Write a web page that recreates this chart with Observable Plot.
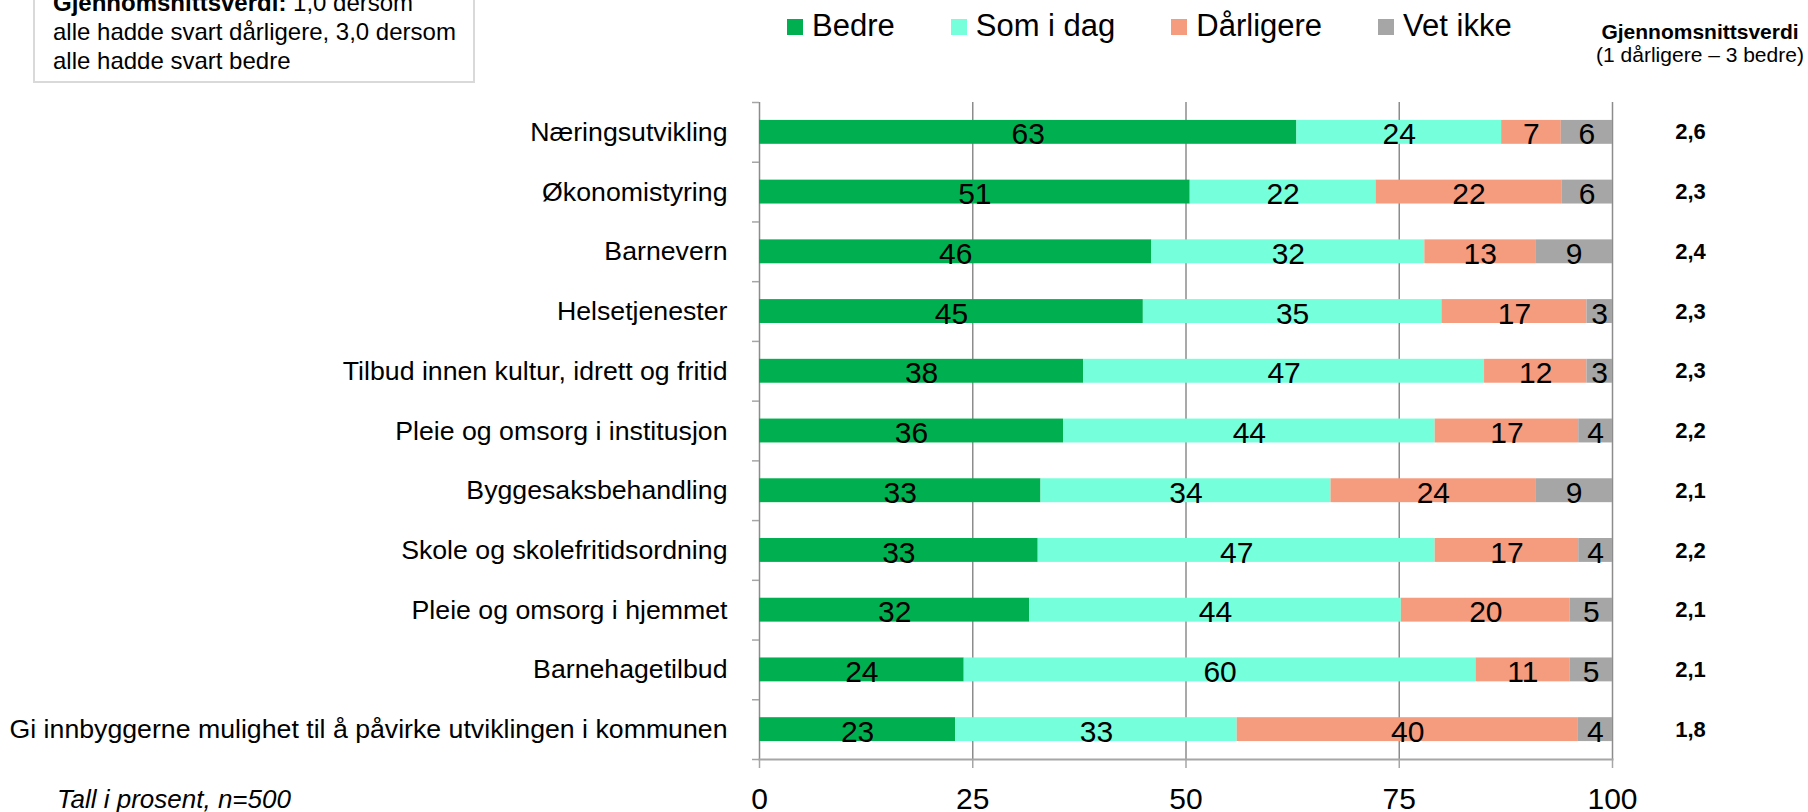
<!DOCTYPE html>
<html>
<head>
<meta charset="utf-8">
<script src="https://cdn.jsdelivr.net/npm/d3@7"></script>
<script src="https://cdn.jsdelivr.net/npm/@observablehq/plot@0.6"></script>
<style>
html, body { margin: 0; padding: 0; background: #fff; }
body { width: 1808px; height: 812px; overflow: hidden; position: relative; font-family: "Liberation Sans", Arial, sans-serif; color: #000; }
#chart { position: absolute; left: 0; top: 0; }
#note-box { position: absolute; left: 33px; top: -40px; width: 442px; height: 123px; box-sizing: border-box; border: 2px solid #d9d9d9; background: #fff; }
#note-text { position: absolute; left: 53px; top: -12.5px; font-size: 24px; line-height: 29px; white-space: nowrap; }
#legend { position: absolute; left: 787px; top: 9.8px; display: flex; font-size: 31px; line-height: 31px; }
#legend .item { display: flex; align-items: center; height: 31px; margin-right: 56px; white-space: nowrap; }
#legend .sw { width: 16px; height: 16px; margin-top: 3px; margin-right: 9px; }
#mean-head { position: absolute; left: 1590px; width: 220px; top: 0; text-align: center; font-size: 21px; }
#mean-head .t1 { position: absolute; left: 0; width: 220px; top: 21px; line-height: 21px; font-weight: bold; white-space: nowrap; }
#mean-head .t2 { position: absolute; left: 0; width: 220px; top: 43.5px; line-height: 21px; white-space: nowrap; }
#caption { position: absolute; left: 57px; top: 786px; font-size: 26px; line-height: 26px; font-style: italic; white-space: nowrap; }
</style>
</head>
<body>
<div id="note-box"></div>
<div id="note-text"><b>Gjennomsnittsverdi:</b> 1,0 dersom<br>alle hadde svart dårligere, 3,0 dersom<br>alle hadde svart bedre</div>
<div id="legend"></div>
<div id="mean-head"><div class="t1">Gjennomsnittsverdi</div><div class="t2">(1 dårligere – 3 bedre)</div></div>
<div id="chart"></div>
<div id="caption">Tall i prosent, n=500</div>
<script>
const categories = [
  "Næringsutvikling",
  "Økonomistyring",
  "Barnevern",
  "Helsetjenester",
  "Tilbud innen kultur, idrett og fritid",
  "Pleie og omsorg i institusjon",
  "Byggesaksbehandling",
  "Skole og skolefritidsordning",
  "Pleie og omsorg i hjemmet",
  "Barnehagetilbud",
  "Gi innbyggerne mulighet til å påvirke utviklingen i kommunen"
];
const seriesNames = ["Bedre", "Som i dag", "Dårligere", "Vet ikke"];
const bedre     = [63, 51, 46, 45, 38, 36, 33, 33, 32, 24, 23];
const somIDag   = [24, 22, 32, 35, 47, 44, 34, 47, 44, 60, 33];
const darligere = [ 7, 22, 13, 17, 12, 17, 24, 17, 20, 11, 40];
const vetIkke   = [ 6,  6,  9,  3,  3,  4,  9,  4,  5,  5,  4];
const means = ["2,6", "2,3", "2,4", "2,3", "2,3", "2,2", "2,1", "2,2", "2,1", "2,1", "1,8"];
const colors = ["#00b050", "#75ffda", "#f59c7e", "#a6a6a6"];
const xTicks = [0, 0.25, 0.5, 0.75, 1];
const xTickLabels = ["0", "25", "50", "75", "100"];

const seriesValues = [bedre, somIDag, darligere, vetIkke];
const data = [];
categories.forEach((c, i) => {
  seriesNames.forEach((s, j) => {
    data.push({category: c, series: s, value: seriesValues[j][i]});
  });
});
const rows = categories.map((c, i) => ({category: c, mean: means[i]}));

// legend
const legend = document.getElementById("legend");
seriesNames.forEach((s, j) => {
  const it = document.createElement("div");
  it.className = "item";
  const sw = document.createElement("div");
  sw.className = "sw";
  sw.style.background = colors[j];
  const tx = document.createElement("span");
  tx.textContent = s;
  it.appendChild(sw); it.appendChild(tx);
  legend.appendChild(it);
});

const W = 1808, H = 812, mT = 102, mB = 53, mL = 759, mR = 196;
const step = (H - mT - mB) / categories.length;
const axisGray = "#a6a6a6";
const gridGray = "#8c8c8c";
const font = "'Liberation Sans', Arial, sans-serif";

const chart = Plot.plot({
  width: W, height: H,
  marginTop: mT, marginBottom: mB, marginLeft: mL, marginRight: mR,
  style: {fontFamily: font, background: "transparent", color: "black", overflow: "visible"},
  x: {domain: [0, 1], label: null},
  y: {domain: categories, paddingInner: 0.6, paddingOuter: 0.3, round: false, label: null},
  color: {domain: seriesNames, range: colors},
  marks: [
    Plot.ruleX(xTicks, {stroke: gridGray, strokeWidth: 1.5}),
    Plot.barX(data, Plot.stackX({x: "value", y: "category", z: "series", fill: "series", order: seriesNames, offset: "normalize"})),
    Plot.text(data, Plot.stackX({x: "value", y: "category", z: "series", order: seriesNames, offset: "normalize", text: d => String(d.value), fontSize: 30, dy: 2.5, fill: "black"})),
    Plot.frame({anchor: "bottom", stroke: axisGray, strokeWidth: 2}),
    Plot.axisX({ticks: xTicks, tickFormat: d => xTickLabels[xTicks.indexOf(d)], tickSize: 9, tickPadding: 19, fontSize: 30, stroke: axisGray, strokeWidth: 1.5, fill: "black", label: null}),
    Plot.axisY({tickSize: 0, tickPadding: 32, fontSize: 26.7, fill: "black", label: null}),
    Plot.axisY({tickSize: 7, tickFormat: () => "", dy: -step / 2, stroke: axisGray, strokeWidth: 1.5, label: null}),
    Plot.axisY({ticks: [categories[categories.length - 1]], tickSize: 7, tickFormat: () => "", dy: step / 2, stroke: axisGray, strokeWidth: 1.5, label: null}),
    Plot.text(rows, {y: "category", text: "mean", frameAnchor: "right", dx: 78, textAnchor: "middle", fontWeight: "bold", fontSize: 22, fill: "black"})
  ]
});
document.getElementById("chart").appendChild(chart);
</script>
</body>
</html>
